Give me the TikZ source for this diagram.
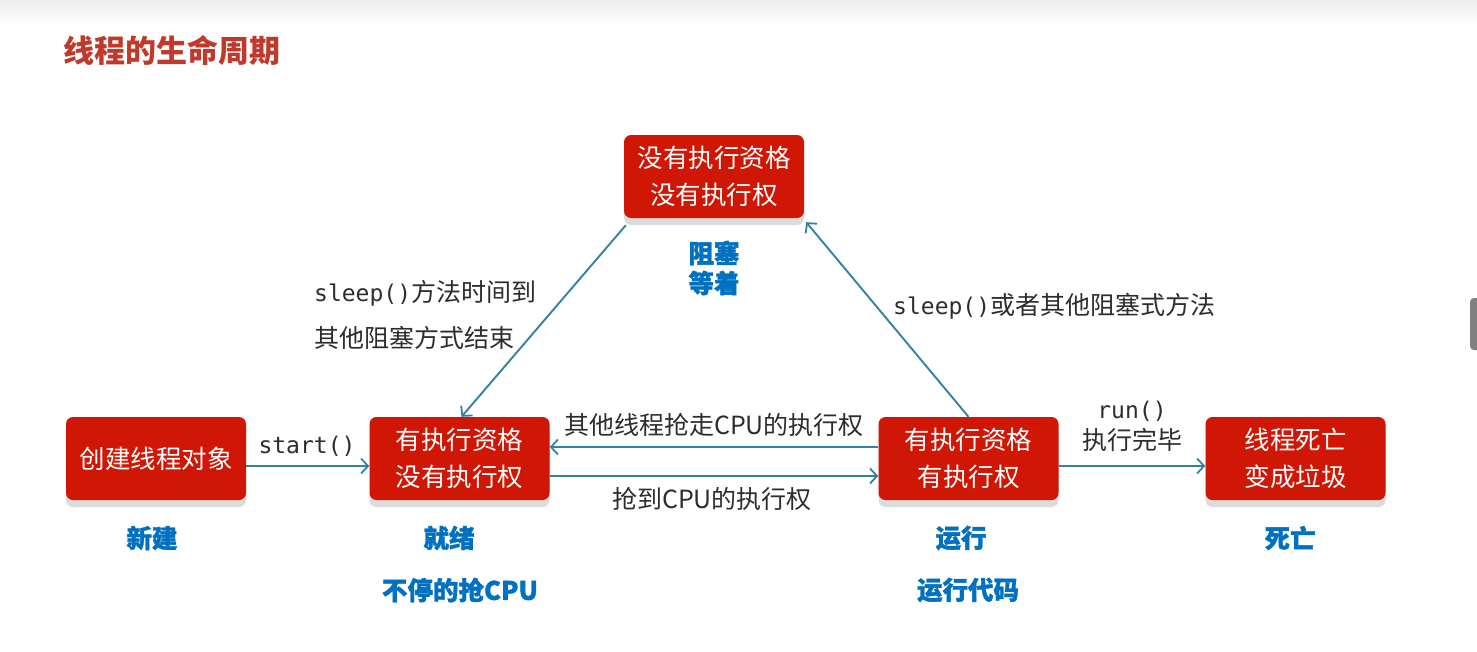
\documentclass[tikz,border=0pt]{standalone}
\usepackage{fontspec}
\newfontfamily\cjk{Noto Sans CJK SC}
\newfontfamily\cjkheavy{Noto Sans CJK SC}[BoldFeatures={FakeBold=1.3}]
\newfontfamily\mono{DejaVu Sans Mono}
\newcommand\monotxt[1]{{\mono\fontsize{23}{28}\selectfont #1}}
\usetikzlibrary{arrows.meta,shadows}
\definecolor{boxred}{RGB}{208,22,4}
\definecolor{conn}{RGB}{52,130,162}
\definecolor{lblue}{RGB}{0,112,192}
\definecolor{titlered}{RGB}{192,57,43}
\definecolor{txt}{RGB}{45,45,45}
\tikzset{
  state/.style={draw=none, fill=boxred, rounded corners=7pt, minimum width=180pt, minimum height=83pt,
    text=white, align=center, font=\cjk\fontsize{25.5}{37}\selectfont,
    drop shadow={shadow xshift=0pt, shadow yshift=-7pt, fill=black!14, opacity=1}},
  conn/.style={draw=conn, line width=1.9pt, -{Straight Barb[length=7pt,width=15pt,line width=1.8pt]}},
  tag/.style={text=lblue, font=\cjkheavy\bfseries\fontsize{25.5}{30}\selectfont, inner sep=0pt},
  lbl/.style={text=txt, font=\cjk\fontsize{25}{30}\selectfont, inner sep=0pt},
}
\begin{document}
\begin{tikzpicture}[x=1pt,y=-1pt]
\useasboundingbox (0,0) rectangle (1477,651);
\fill[white] (0,0) rectangle (1477,651);
\shade[top color=black!7, bottom color=white] (0,0) rectangle (1477,26);
\fill[black!50, rounded corners=4pt] (1470,298) rectangle (1482,350);
\node[anchor=west, text=titlered, font=\cjk\bfseries\fontsize{31}{34}\selectfont, inner sep=0pt] (title) at (63,50) {线程的生命周期};

\node[state] (block) at (714,176.5) {没有执行资格\\没有执行权};
\node[state] (new) at (156,458.5) {创建线程对象};
\node[state] (ready) at (459.5,458.5) {有执行资格\\没有执行权};
\node[state] (run) at (968.5,458.5) {有执行资格\\有执行权};
\node[state] (dead) at (1295.5,458.5) {线程死亡\\变成垃圾};

\node[tag] (tblock1) at (714,253) {阻塞};
\node[tag] (tblock2) at (714,283) {等着};
\node[tag] (tnew) at (152,538) {新建};
\node[tag] (tready) at (449,538) {就绪};
\node[tag] (trun) at (961,538) {运行};
\node[tag] (tdead) at (1290,538) {死亡};
\node[tag] (tready2) at (460,590) {不停的抢CPU};
\node[tag] (trun2) at (968,590) {运行代码};

\draw[conn] ([shift={(0,7.5)}]new.east) -- ([shift={(0,7.5)}]ready.west);
\draw[conn] ([shift={(0,-11.5)}]run.west) -- ([shift={(0,-11.5)}]ready.east);
\draw[conn] ([shift={(0,17.5)}]ready.east) -- ([shift={(0,17.5)}]run.west);
\draw[conn] ([shift={(0,7.5)}]run.east) -- ([shift={(0,7.5)}]dead.west);
\draw[conn] ([shift={(2,7)}]block.south west) -- ([shift={(2,0)}]ready.north);
\draw[conn] (run.north) -- ([shift={(2,4)}]block.south east);

\node[lbl] (lstart) at (307,446) {\monotxt{start()}};
\node[lbl] (lsteal) at (714,425) {其他线程抢走CPU的执行权};
\node[lbl] (lget) at (712,499) {抢到CPU的执行权};
\node[lbl] (lrun) at (1132,411) {\monotxt{run()}};
\node[lbl] (ldone) at (1132,440) {执行完毕};
\node[lbl, anchor=west] (lwake1) at (314,293) {\monotxt{sleep()}方法时间到};
\node[lbl, anchor=west] (lwake2) at (314,338) {其他阻塞方式结束};
\node[lbl, anchor=west] (lsleep) at (893,306) {\monotxt{sleep()}或者其他阻塞式方法};
\end{tikzpicture}
\end{document}
